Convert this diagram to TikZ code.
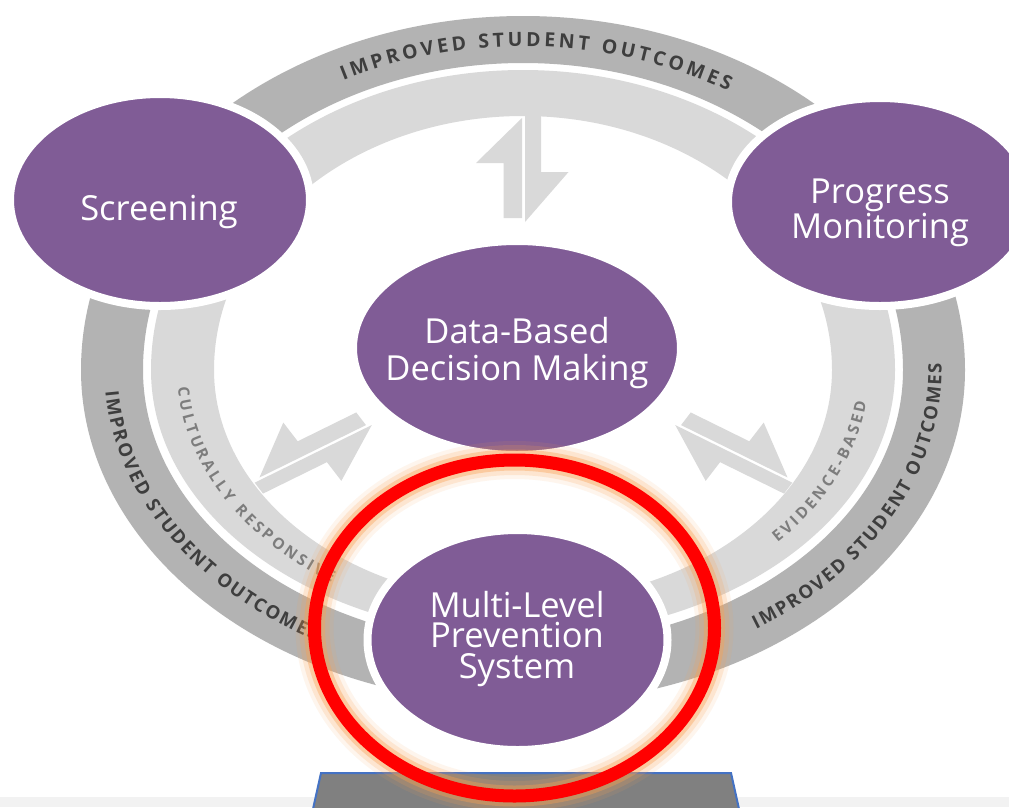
\documentclass[tikz,border=0pt]{standalone}
\usepackage{fontspec}
\setmainfont{Open Sans}
\newfontfamily\ringfont{Open Sans}
\usetikzlibrary{shapes.geometric,decorations.text}

\definecolor{rtipurple}{RGB}{128,92,150}
\definecolor{ringdark}{RGB}{179,179,179}
\definecolor{ringlight}{RGB}{217,217,217}
\definecolor{darktext}{RGB}{62,62,62}
\definecolor{lighttext}{RGB}{125,125,125}
\definecolor{glow}{RGB}{250,160,80}
\definecolor{standgray}{RGB}{128,128,128}
\definecolor{standblue}{RGB}{68,114,196}
\definecolor{slidegray}{RGB}{242,242,242}

% egg shaped ring edge: x radius, upper y radius, lower y radius
\newcommand\eggpath[3]{(523+#1,-370) arc[start angle=0, end angle=180, x radius=#1, y radius=#2]
  arc[start angle=180, end angle=360, x radius=#1, y radius=#3] -- cycle}
% pair of half arrows, DBDM end at the origin, ring end up
\newcommand\twoway{%
  \fill[halfarrow] (-1.2,104) -- (-38,59) -- (-16,59) -- (-16,4) -- (-1.2,4) -- cycle;
  \fill[halfarrow] (1.2,110) -- (14,110) -- (14,50) -- (36,50) -- (1.2,0) -- cycle;}
% letter spaced ring fonts
\newcommand\outcomefont{\ringfont\bfseries\fontsize{19.5}{20}\selectfont\kern3.7pt}
\newcommand\outcomesmall{\ringfont\bfseries\fontsize{18.5}{20}\selectfont\kern1.6pt}
\newcommand\qualityfont{\ringfont\bfseries\fontsize{15.5}{18}\selectfont\kern2.8pt}

\tikzset{
  bubble/.style={ellipse, fill=rtipurple, draw=white, line width=8pt, inner sep=0pt},
  bubbletext/.style={text=white, align=center, font=\fontsize{34.5}{33}\selectfont},
  halfarrow/.style={fill=ringlight},
  ringlabel/.style={decorate, decoration={text along path, text align=center}},
  darklabel/.style={ringlabel, decoration={text color=darktext, raise=-7pt}},
  lightlabel/.style={ringlabel, decoration={text color=lighttext, raise=-5.5pt}},
}

\begin{document}
\begin{tikzpicture}[x=1pt,y=1pt]
  \useasboundingbox (0,0) rectangle (1009,-807);
  \clip (0,0) rectangle (1009,-807);
  \fill[white] (0,0) rectangle (1009,-807);
  \fill[slidegray] (0,-797) rectangle (1009,-807);

  % rings
  \fill[ringdark, even odd rule] \eggpath{442}{354}{334} \eggpath{380}{307}{276};
  \fill[ringlight, even odd rule] \eggpath{372}{300}{266} \eggpath{309}{254}{232};

  % two-way arrows
  \begin{scope}[shift={(523.5,-222)}, xscale=1.25]
    \twoway
  \end{scope}
  \begin{scope}[shift={(676,-424)}, xscale=1.25, rotate=-121.6]
    \twoway
  \end{scope}
  \begin{scope}[shift={(371,-424)}, xscale=-1.25, rotate=-121.6]
    \twoway
  \end{scope}

  % ring labels
  \path[darklabel, decoration={text={|\outcomefont|IMPROVED STUDENT OUTCOMES}}]
    (523,-370) ++(150:411.5 and 330.5) arc[start angle=150, end angle=26, x radius=411.5, y radius=330.5];
  \path[darklabel, decoration={text={|\outcomesmall|IMPROVED STUDENT OUTCOMES}}]
    (523,-370) ++(176:411.5 and 305) arc[start angle=176, end angle=246, x radius=411.5, y radius=305];
  \path[darklabel, decoration={text={|\outcomesmall|IMPROVED STUDENT OUTCOMES}}]
    (523,-370) ++(300:411.5 and 305) arc[start angle=300, end angle=366, x radius=411.5, y radius=305];
  \path[lightlabel, decoration={text={|\qualityfont|CULTURALLY RESPONSIVE}}]
    (523,-370) ++(176:340.5 and 249) arc[start angle=176, end angle=242, x radius=340.5, y radius=249];
  \path[lightlabel, decoration={text={|\qualityfont|EVIDENCE-BASED}}]
    (523,-370) ++(307:340.5 and 249) arc[start angle=307, end angle=365, x radius=340.5, y radius=249];

  % components
  \node[bubble, minimum width=300pt, minimum height=212pt] (screen) at (160,-200) {};
  \node[bubble, minimum width=304pt, minimum height=208pt] (progress) at (880,-202) {};
  \node[bubble, minimum width=328pt, minimum height=214pt] (dbdm) at (517,-348) {};
  \node[bubble, minimum width=300pt, minimum height=220pt] (mlps) at (517.5,-640) {};

  \node[bubbletext] (screentext) at (159,-212) {Screening};
  \node[bubbletext] (progresstext) at (880,-213) {Progress\\Monitoring};
  \node[bubbletext, font=\fontsize{34.5}{37}\selectfont] (dbdmtext) at (517,-353) {Data-Based\\Decision Making};
  \node[bubbletext, font=\fontsize{34.5}{30.5}\selectfont] (mlpstext) at (517,-639) {Multi-Level\\Prevention\\System};

  % stand below
  \filldraw[fill=standgray, draw=standblue, line width=2pt] (321,-773) -- (731,-773) -- (739,-809) -- (313,-809) -- cycle;

  % red highlight
  \draw[glow, line width=38pt, opacity=.10] (514.5,-628) ellipse [x radius=200, y radius=168];
  \draw[glow, line width=30pt, opacity=.18] (514.5,-628) ellipse [x radius=200, y radius=168];
  \draw[glow, line width=21pt, opacity=.38] (514.5,-628) ellipse [x radius=200, y radius=168];
  \draw[red, line width=13pt] (514.5,-628) ellipse [x radius=200, y radius=168];
\end{tikzpicture}
\end{document}
